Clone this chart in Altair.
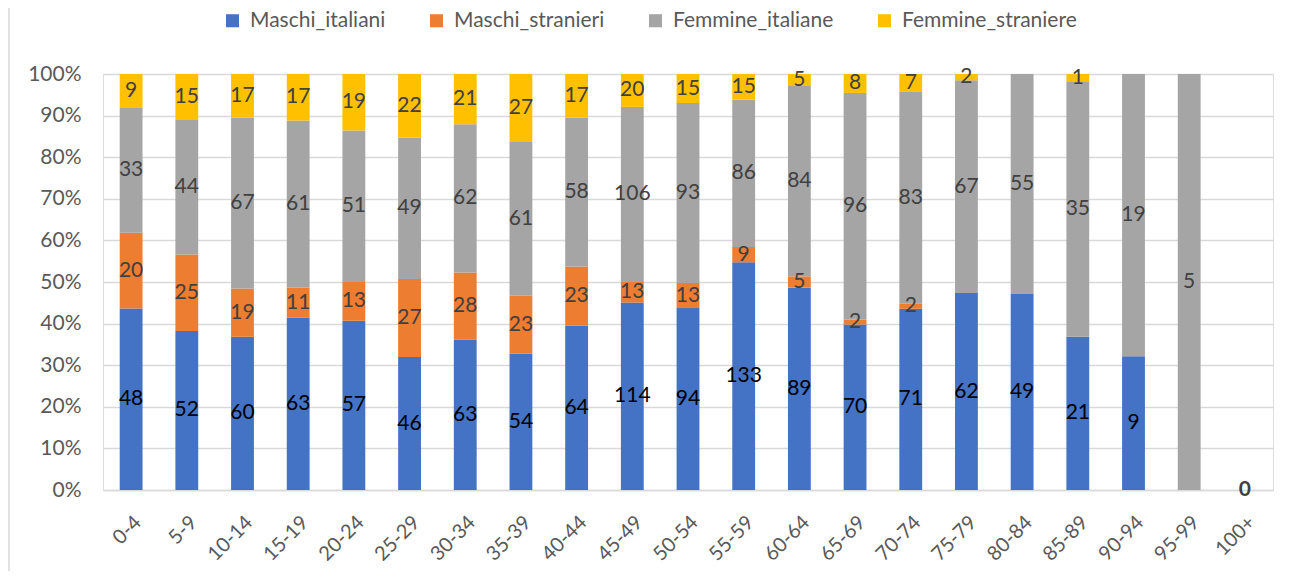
import altair as alt
import pandas as pd

ages = ["0-4", "5-9", "10-14", "15-19", "20-24", "25-29", "30-34", "35-39", "40-44",
        "45-49", "50-54", "55-59", "60-64", "65-69", "70-74", "75-79", "80-84",
        "85-89", "90-94", "95-99", "100+"]
maschi_italiani = [48, 52, 60, 63, 57, 46, 63, 54, 64, 114, 94, 133, 89, 70, 71, 62, 49, 21, 9, 0, 0]
maschi_stranieri = [20, 25, 19, 11, 13, 27, 28, 23, 23, 13, 13, 9, 5, 2, 2, 0, 0, 0, 0, 0, 0]
femmine_italiane = [33, 44, 67, 61, 51, 49, 62, 61, 58, 106, 93, 86, 84, 96, 83, 67, 55, 35, 19, 5, 0]
femmine_straniere = [9, 15, 17, 17, 19, 22, 21, 27, 17, 20, 15, 15, 5, 8, 7, 2, 0, 1, 0, 0, 0]

series = ["Maschi_italiani", "Maschi_stranieri", "Femmine_italiane", "Femmine_straniere"]
colors = ["#4472C4", "#ED7D31", "#A5A5A5", "#FFC000"]
label_colors = ["#000000", "#404040", "#404040", "#404040"]

rows = []
for s_i, (name, vals) in enumerate(zip(series, [maschi_italiani, maschi_stranieri,
                                                 femmine_italiane, femmine_straniere])):
    for a, v in zip(ages, vals):
        rows.append({"age": a, "series": name, "value": v, "order": s_i,
                     "lcolor": label_colors[s_i]})
df = pd.DataFrame(rows)

FONT = "Lato"
W, H = 1170, 416

x_enc = alt.X("age:N", sort=ages, title=None,
              scale=alt.Scale(domain=ages, paddingInner=0.59, paddingOuter=0.3),
              axis=alt.Axis(labelAngle=-45, labelFontSize=20, labelColor="#595959",
                            labelFont=FONT, ticks=False, domainColor="#D9D9D9",
                            domainWidth=1.3, labelPadding=22, grid=False))

base = alt.Chart(df)

bars = base.transform_filter("datum.value > 0").mark_bar().encode(
    x=x_enc,
    y=alt.Y("sum(value):Q", stack="normalize", title=None,
            scale=alt.Scale(domain=[0, 1]),
            axis=alt.Axis(format="%", values=[i / 10 for i in range(11)],
                          labelFontSize=21, labelColor="#595959", labelFont=FONT,
                          ticks=False, domain=False, gridColor="#D9D9D9",
                          gridWidth=1.3, labelPadding=22)),
    color=alt.Color("series:N", sort=series,
                    scale=alt.Scale(domain=series, range=colors),
                    legend=alt.Legend(title=None, orient="none", direction="horizontal",
                                      legendX=119, legendY=-64,
                                      symbolType="square", symbolSize=170,
                                      symbolStrokeWidth=0,
                                      labelFontSize=21, labelColor="#595959",
                                      labelFont=FONT, columnPadding=40,
                                      labelOffset=7, labelLimit=400)),
    order=alt.Order("order:Q", sort="ascending"),
)

labels = base.transform_filter("datum.value > 0").transform_stack(
    stack="value", groupby=["age"], as_=["y0", "y1"], offset="normalize",
    sort=[alt.SortField("order", order="ascending")]
).transform_calculate(mid="(datum.y0 + datum.y1) / 2").mark_text(
    fontSize=21, font=FONT
).encode(
    x=alt.X("age:N", sort=ages),
    y=alt.Y("mid:Q"),
    text=alt.Text("value:Q"),
    color=alt.Color("lcolor:N", scale=None),
)

zero = base.transform_joinaggregate(total="sum(value)", groupby=["age"]).transform_filter(
    "datum.total == 0 && datum.order == 0"
).mark_text(fontSize=21, font=FONT, fontWeight="bold", color="#404040").encode(
    x=alt.X("age:N", sort=ages),
    y=alt.Y("total:Q"),
    text=alt.Text("total:Q"),
)

# chart-area frame edge (left side visible in the reference)
frame = alt.Chart(pd.DataFrame({"k": [0]})).mark_rule(
    color="#D9D9D9", strokeWidth=1.5, clip=False
).encode(x=alt.value(-94), y=alt.value(-80), y2=alt.value(H + 100))

chart = alt.layer(bars, labels, zero, frame).properties(
    width=W, height=H,
    autosize=alt.AutoSizeParams(type="none"),
    padding={"left": 95, "top": 66, "right": 9, "bottom": 81},
).configure_view(stroke=None).configure(background="white")

chart.save("out.html", embed_options={"renderer": "svg", "actions": False})
